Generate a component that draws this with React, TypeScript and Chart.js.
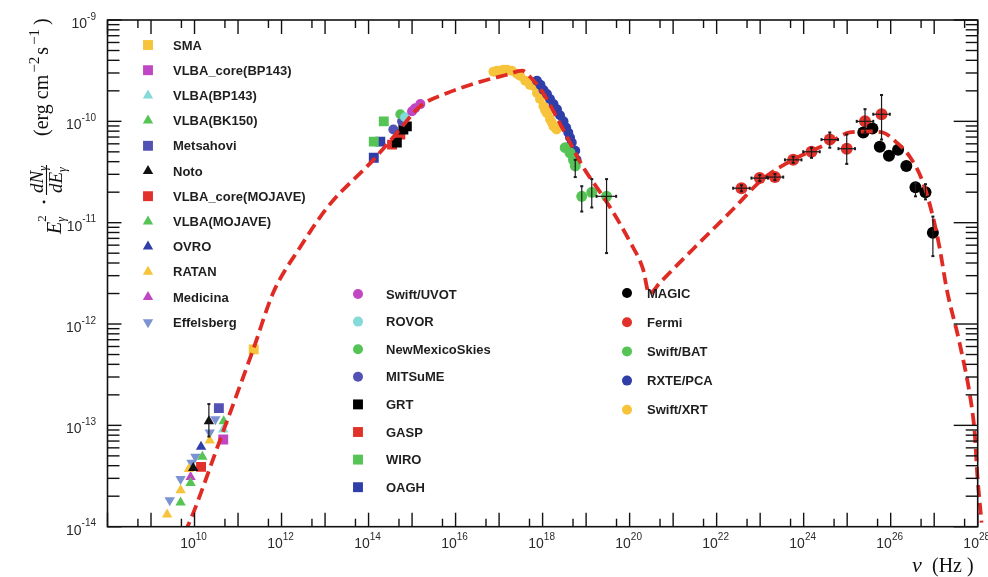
import React, { useEffect, useRef } from 'react';
import { Chart, registerables } from 'chart.js';

Chart.register(...registerables);

// ---- axis ranges ----
const X_MIN = 1e8;
const X_MAX = 1e28;
const Y_MIN = 1e-14;
const Y_MAX = 1e-9;
const X_LABEL_EXPS = [10, 12, 14, 16, 18, 20, 22, 24, 26, 28];
const Y_LABEL_EXPS = [-9, -10, -11, -12, -13, -14];

// ---- model curve (log10 nu [Hz], log10 flux) ----
const MODEL_LOG_NU = [9.77, 9.91, 10.59, 11.35, 11.81, 12.43, 13.07, 14.11, 14.66, 15.19, 15.81, 16.56, 17.18, 17.53, 17.71, 18.01, 18.47, 18.93, 19.48, 20.01, 20.31, 20.45, 20.70, 21.46, 22.37, 23.06, 23.75, 24.60, 25.06, 25.52, 25.82, 26.14, 26.44, 26.74, 26.97, 27.13, 27.29, 27.59, 27.86, 27.93, 27.99, 28.09];
const MODEL_LOG_F = [-14.06, -13.93, -13.14, -12.25, -11.69, -11.24, -10.84, -10.38, -10.11, -9.85, -9.72, -9.61, -9.54, -9.50, -9.56, -9.72, -10.08, -10.45, -10.80, -11.19, -11.46, -11.70, -11.59, -11.26, -10.87, -10.57, -10.38, -10.21, -10.11, -10.10, -10.11, -10.21, -10.35, -10.60, -10.94, -11.26, -11.66, -12.20, -12.81, -13.07, -13.48, -13.96];

// ---- radio ----
const SMA_NU = [11.36];
const SMA_F = [-12.25];
const VLBACORE_BP_NU = [10.66];
const VLBACORE_BP_F = [-13.14];
const VLBA_BP_NU = [10.66];
const VLBA_BP_F = [-13.04];
const VLBA_BK_NU = [10.67];
const VLBA_BK_F = [-12.96];
const METSAHOVI_NU = [10.56];
const METSAHOVI_F = [-12.83];
const NOTO_NU = [10.33, 9.97];
const NOTO_F = [-12.96, -13.42];
const NOTO_YLO = [-13.11, null];
const NOTO_YHI = [-12.79, null];
const VLBACORE_MOJ_NU = [10.15];
const VLBACORE_MOJ_F = [-13.41];
const VLBA_MOJ_NU = [10.18, 9.91, 9.68];
const VLBA_MOJ_F = [-13.31, -13.57, -13.76];
const OVRO_NU = [10.15];
const OVRO_F = [-13.21];
const RATAN_NU = [10.35, 9.87, 9.68, 9.37];
const RATAN_F = [-13.15, -13.43, -13.64, -13.88];
const MEDICINA_NU = [9.91];
const MEDICINA_F = [-13.51];
const EFFELSBERG_NU = [10.48, 10.35, 10.02, 9.93, 9.68, 9.43];
const EFFELSBERG_F = [-12.94, -13.07, -13.31, -13.37, -13.53, -13.74];

// ---- optical / IR ----
const UVOT_NU = [15.0, 15.07, 15.19];
const UVOT_F = [-9.9, -9.87, -9.83];
const ROVOR_NU = [14.84];
const ROVOR_F = [-9.96];
const NMS_NU = [14.73];
const NMS_F = [-9.93];
const MITSUME_NU = [14.57, 14.77];
const MITSUME_F = [-10.08, -10.0];
const GRT_NU = [14.65, 14.8, 14.88];
const GRT_F = [-10.21, -10.08, -10.05];
const GASP_NU = [14.54, 14.73];
const GASP_F = [-10.23, -10.13];
const WIRO_NU = [14.35, 14.12];
const WIRO_F = [-10.0, -10.2];
const OAGH_NU = [14.27, 14.12];
const OAGH_F = [-10.2, -10.36];

// ---- X-ray / gamma ----
const MAGIC_NU = [25.37, 25.58, 25.75, 25.96, 26.17, 26.36, 26.57, 26.8, 26.97];
const MAGIC_F = [-10.11, -10.07, -10.25, -10.34, -10.28, -10.44, -10.65, -10.7, -11.1];
const MAGIC_YLO = [null, null, null, null, null, null, -10.74, -10.77, -11.33];
const MAGIC_YHI = [null, null, null, null, null, null, -10.61, -10.62, -10.94];
const FERMI_NU = [22.57, 22.99, 23.34, 23.76, 24.18, 24.6, 24.99, 25.41, 25.79];
const FERMI_F = [-10.66, -10.56, -10.55, -10.38, -10.3, -10.18, -10.27, -10.0, -9.93];
const FERMI_XLO = [22.38, 22.8, 23.15, 23.57, 23.99, 24.41, 24.8, 25.22, 25.6];
const FERMI_XHI = [22.76, 23.18, 23.53, 23.95, 24.37, 24.79, 25.18, 25.6, 25.98];
const FERMI_YLO = [-10.69, -10.59, -10.58, -10.41, -10.36, -10.26, -10.42, -10.11, -10.18];
const FERMI_YHI = [-10.63, -10.53, -10.52, -10.35, -10.26, -10.11, -10.13, -9.88, -9.74];
const BAT_NU = [18.52, 18.63, 18.71, 18.75, 18.9, 19.13, 19.47];
const BAT_F = [-10.26, -10.31, -10.38, -10.44, -10.74, -10.7, -10.74];
const BAT_XLO = [null, null, null, null, null, null, 19.24];
const BAT_XHI = [null, null, null, null, null, null, 19.69];
const BAT_YLO = [null, null, null, -10.55, -10.89, -10.85, -11.3];
const BAT_YHI = [null, null, null, -10.38, -10.64, -10.57, -10.57];
const PCA_NU = [17.87, 17.95, 18.02, 18.1, 18.17, 18.25, 18.33, 18.4, 18.48, 18.54, 18.59, 18.63, 18.67, 18.75, 18.78];
const PCA_F = [-9.6, -9.64, -9.69, -9.73, -9.78, -9.83, -9.88, -9.94, -10.0, -10.06, -10.11, -10.16, -10.21, -10.29, -10.38];
const XRT_NU = [16.87, 16.95, 17.02, 17.1, 17.18, 17.29, 17.41, 17.48, 17.6, 17.71, 17.79, 17.87, 17.94, 18.02, 18.06, 18.1, 18.17, 18.21, 18.25, 18.32];
const XRT_F = [-9.51, -9.5, -9.5, -9.49, -9.49, -9.5, -9.53, -9.55, -9.6, -9.64, -9.65, -9.72, -9.78, -9.85, -9.89, -9.92, -9.98, -10.01, -10.05, -10.08];

type Shape = 'rect' | 'triangle' | 'invtri' | 'circle';
interface Series {
  label: string;
  nu: number[];
  f: number[];
  color: string;
  shape: Shape;
  r: number;
  xlo?: (number | null)[];
  xhi?: (number | null)[];
  ylo?: (number | null)[];
  yhi?: (number | null)[];
}

const C_YEL = '#f6c33a';
const C_MAG = '#c146c4';
const C_CYAN = '#84d9d9';
const C_GRN = '#55c455';
const C_BLU = '#5252b4';
const C_DBLU = '#2f3ea8';
const C_RED = '#e2302a';
const C_EFF = '#7b93d3';

const RADIO: Series[] = [
  { label: 'SMA', nu: SMA_NU, f: SMA_F, color: C_YEL, shape: 'rect', r: 7 },
  { label: 'VLBA_core(BP143)', nu: VLBACORE_BP_NU, f: VLBACORE_BP_F, color: C_MAG, shape: 'rect', r: 7 },
  { label: 'VLBA(BP143)', nu: VLBA_BP_NU, f: VLBA_BP_F, color: C_CYAN, shape: 'triangle', r: 6 },
  { label: 'VLBA(BK150)', nu: VLBA_BK_NU, f: VLBA_BK_F, color: C_GRN, shape: 'triangle', r: 6 },
  { label: 'Metsahovi', nu: METSAHOVI_NU, f: METSAHOVI_F, color: C_BLU, shape: 'rect', r: 7 },
  { label: 'Noto', nu: NOTO_NU, f: NOTO_F, color: '#111111', shape: 'triangle', r: 6, ylo: NOTO_YLO, yhi: NOTO_YHI },
  { label: 'VLBA_core(MOJAVE)', nu: VLBACORE_MOJ_NU, f: VLBACORE_MOJ_F, color: C_RED, shape: 'rect', r: 7 },
  { label: 'VLBA(MOJAVE)', nu: VLBA_MOJ_NU, f: VLBA_MOJ_F, color: C_GRN, shape: 'triangle', r: 6 },
  { label: 'OVRO', nu: OVRO_NU, f: OVRO_F, color: C_DBLU, shape: 'triangle', r: 6 },
  { label: 'RATAN', nu: RATAN_NU, f: RATAN_F, color: C_YEL, shape: 'triangle', r: 6 },
  { label: 'Medicina', nu: MEDICINA_NU, f: MEDICINA_F, color: C_MAG, shape: 'triangle', r: 6 },
  { label: 'Effelsberg', nu: EFFELSBERG_NU, f: EFFELSBERG_F, color: C_EFF, shape: 'invtri', r: 6 },
];

const OPTICAL: Series[] = [
  { label: 'Swift/UVOT', nu: UVOT_NU, f: UVOT_F, color: C_MAG, shape: 'circle', r: 5 },
  { label: 'ROVOR', nu: ROVOR_NU, f: ROVOR_F, color: C_CYAN, shape: 'circle', r: 5 },
  { label: 'NewMexicoSkies', nu: NMS_NU, f: NMS_F, color: C_GRN, shape: 'circle', r: 5 },
  { label: 'MITSuME', nu: MITSUME_NU, f: MITSUME_F, color: C_BLU, shape: 'circle', r: 5 },
  { label: 'GRT', nu: GRT_NU, f: GRT_F, color: '#000000', shape: 'rect', r: 7 },
  { label: 'GASP', nu: GASP_NU, f: GASP_F, color: C_RED, shape: 'rect', r: 7 },
  { label: 'WIRO', nu: WIRO_NU, f: WIRO_F, color: C_GRN, shape: 'rect', r: 7 },
  { label: 'OAGH', nu: OAGH_NU, f: OAGH_F, color: C_DBLU, shape: 'rect', r: 7 },
];

const HIGH: Series[] = [
  { label: 'MAGIC', nu: MAGIC_NU, f: MAGIC_F, color: '#000000', shape: 'circle', r: 6, ylo: MAGIC_YLO, yhi: MAGIC_YHI },
  { label: 'Fermi', nu: FERMI_NU, f: FERMI_F, color: C_RED, shape: 'circle', r: 6, xlo: FERMI_XLO, xhi: FERMI_XHI, ylo: FERMI_YLO, yhi: FERMI_YHI },
  { label: 'Swift/BAT', nu: BAT_NU, f: BAT_F, color: C_GRN, shape: 'circle', r: 5.5, xlo: BAT_XLO, xhi: BAT_XHI, ylo: BAT_YLO, yhi: BAT_YHI },
  { label: 'RXTE/PCA', nu: PCA_NU, f: PCA_F, color: C_DBLU, shape: 'circle', r: 5 },
  { label: 'Swift/XRT', nu: XRT_NU, f: XRT_F, color: C_YEL, shape: 'circle', r: 5 },
];

// legend layout: [series list, marker x, text x, first row y, row step]
const LEGEND_GROUPS: [Series[], number, number, number, number][] = [
  [RADIO, 148, 173, 45, 25.2],
  [OPTICAL, 358, 386, 294, 27.6],
  [HIGH, 627, 647, 293, 29.2],
];

const ALL_SERIES: Series[] = [...HIGH, ...OPTICAL, ...RADIO];

function drawMarker(ctx: CanvasRenderingContext2D, shape: Shape, x: number, y: number, r: number, color: string) {
  ctx.fillStyle = color;
  ctx.beginPath();
  if (shape === 'rect') {
    const s = r * Math.SQRT1_2;
    ctx.rect(x - s, y - s, 2 * s, 2 * s);
  } else if (shape === 'circle') {
    ctx.arc(x, y, r, 0, Math.PI * 2);
  } else {
    const sgn = shape === 'invtri' ? -1 : 1;
    ctx.moveTo(x, y - sgn * r);
    ctx.lineTo(x + r * 0.866, y + sgn * r * 0.5);
    ctx.lineTo(x - r * 0.866, y + sgn * r * 0.5);
    ctx.closePath();
  }
  ctx.fill();
}

function supText(ctx: CanvasRenderingContext2D, base: string, exp: string, x: number, y: number, align: 'right' | 'center') {
  ctx.font = '14px "Liberation Sans", Arial, sans-serif';
  const wb = ctx.measureText(base).width;
  ctx.font = '10px "Liberation Sans", Arial, sans-serif';
  const we = ctx.measureText(exp).width;
  const total = wb + we;
  const x0 = align === 'right' ? x - total : x - total / 2;
  ctx.textAlign = 'left';
  ctx.textBaseline = 'middle';
  ctx.font = '14px "Liberation Sans", Arial, sans-serif';
  ctx.fillText(base, x0, y);
  ctx.font = '10px "Liberation Sans", Arial, sans-serif';
  ctx.fillText(exp, x0 + wb, y - 7);
}

const framePlugin = {
  id: 'framePlugin',
  afterDatasetsDraw(chart: any) {
    const ctx: CanvasRenderingContext2D = chart.ctx;
    const xs = chart.scales.x;
    const ys = chart.scales.y;
    // error bars
    ctx.save();
    ctx.strokeStyle = '#1a1a1a';
    ctx.fillStyle = '#1a1a1a';
    ctx.lineWidth = 1.2;
    ALL_SERIES.forEach((s) => {
      s.nu.forEach((v, i) => {
        const px = xs.getPixelForValue(Math.pow(10, v));
        const py = ys.getPixelForValue(Math.pow(10, s.f[i]));
        const ylo = s.ylo ? s.ylo[i] : null;
        const yhi = s.yhi ? s.yhi[i] : null;
        if (ylo != null && yhi != null) {
          const a = ys.getPixelForValue(Math.pow(10, ylo));
          const b = ys.getPixelForValue(Math.pow(10, yhi));
          ctx.beginPath();
          ctx.moveTo(px, a);
          ctx.lineTo(px, b);
          ctx.stroke();
          ctx.fillRect(px - 1.5, a - 1, 3, 2);
          ctx.fillRect(px - 1.5, b - 1, 3, 2);
        }
        const xlo = s.xlo ? s.xlo[i] : null;
        const xhi = s.xhi ? s.xhi[i] : null;
        if (xlo != null && xhi != null) {
          const a = xs.getPixelForValue(Math.pow(10, xlo));
          const b = xs.getPixelForValue(Math.pow(10, xhi));
          ctx.beginPath();
          ctx.moveTo(a, py);
          ctx.lineTo(b, py);
          ctx.stroke();
          ctx.fillRect(a - 1, py - 1.5, 2, 3);
          ctx.fillRect(b - 1, py - 1.5, 2, 3);
        }
      });
    });
    ctx.restore();
  },
  afterDraw(chart: any) {
    const ctx: CanvasRenderingContext2D = chart.ctx;
    const { left, right, top, bottom } = chart.chartArea;
    const xs = chart.scales.x;
    const ys = chart.scales.y;
    ctx.save();
    ctx.strokeStyle = '#111111';
    ctx.lineWidth = 1.6;
    ctx.strokeRect(left, top, right - left, bottom - top);
    ctx.lineWidth = 1.4;
    const seg = (x1: number, y1: number, x2: number, y2: number) => {
      ctx.beginPath();
      ctx.moveTo(x1, y1);
      ctx.lineTo(x2, y2);
      ctx.stroke();
    };
    // x ticks
    for (let k = 8; k <= 28; k++) {
      const px = xs.getPixelForValue(Math.pow(10, k));
      seg(px, bottom, px, bottom - 14);
      seg(px, top, px, top + 14);
      if (k > 8) {
        const pm = xs.getPixelForValue(5 * Math.pow(10, k - 1));
        seg(pm, bottom, pm, bottom - 8);
        seg(pm, top, pm, top + 8);
      }
    }
    // y ticks
    for (let k = -14; k <= -9; k++) {
      const py = ys.getPixelForValue(Math.pow(10, k));
      seg(left, py, left + 14, py);
      seg(right, py, right - 24, py);
      if (k < -9) {
        for (let m = 2; m <= 9; m++) {
          const pm = ys.getPixelForValue(m * Math.pow(10, k));
          seg(left, pm, left + 12, pm);
          seg(right, pm, right - 12, pm);
        }
      }
    }
    // tick labels
    ctx.fillStyle = '#2a2a2a';
    Y_LABEL_EXPS.forEach((k) => {
      const py = ys.getPixelForValue(Math.pow(10, k));
      supText(ctx, '10', String(k), 96, py + 4, 'right');
    });
    X_LABEL_EXPS.forEach((k) => {
      const px = xs.getPixelForValue(Math.pow(10, k));
      supText(ctx, '10', String(k), px - 1, 544, 'center');
    });

    // x title
    ctx.fillStyle = '#111111';
    ctx.textBaseline = 'alphabetic';
    ctx.textAlign = 'left';
    ctx.font = 'italic 22px "Liberation Serif", "Times New Roman", serif';
    ctx.fillText('ν', 912, 572);
    ctx.font = '20px "Liberation Serif", "Times New Roman", serif';
    ctx.fillText('(Hz )', 932, 572);

    // y title (rotated); screen (X, Y) -> local (-Y, X)
    ctx.save();
    ctx.rotate(-Math.PI / 2);
    const put = (t: string, X: number, Y: number, font: string) => {
      ctx.font = font;
      ctx.fillText(t, -Y, X);
      return ctx.measureText(t).width;
    };
    const F = '"Liberation Serif", "Times New Roman", serif';
    let Y = 136;
    Y -= put('(erg cm', 48, Y, `20px ${F}`) + 2;
    Y -= put('−2', 39, Y, `15px ${F}`) + 2;
    Y -= put('s', 48, Y, `20px ${F}`) + 2;
    Y -= put('−1', 39, Y, `15px ${F}`) + 4;
    put(')', 48, Y, `20px ${F}`);
    // fraction dN/dE
    const w1 = put('dN', 43, 193, `italic 19px ${F}`);
    put('γ', 47, 193 - w1, `italic 12px ${F}`);
    const w2 = put('dE', 62, 193, `italic 19px ${F}`);
    put('γ', 66, 193 - w2, `italic 12px ${F}`);
    ctx.lineWidth = 1.1;
    ctx.strokeStyle = '#111111';
    ctx.beginPath();
    ctx.moveTo(-195, 46.5);
    ctx.lineTo(-165, 46.5);
    ctx.stroke();
    ctx.beginPath();
    ctx.arc(-202, 44, 1.4, 0, Math.PI * 2);
    ctx.fill();
    const w3 = put('E', 61, 234, `italic 20px ${F}`);
    put('γ', 65, 234 - w3, `italic 12px ${F}`);
    put('2', 46, 234 - w3, `13px ${F}`);
    ctx.restore();

    // legends
    LEGEND_GROUPS.forEach(([list, mx, tx, y0, dy]) => {
      list.forEach((s, i) => {
        const y = y0 + i * dy;
        const r = s.shape === 'rect' ? 7 : s.shape === 'circle' ? 5 : 6;
        drawMarker(ctx, s.shape, mx, y, r, s.color);
        ctx.fillStyle = '#1e1e1e';
        ctx.font = 'bold 13px "Liberation Sans", Arial, sans-serif';
        ctx.textAlign = 'left';
        ctx.textBaseline = 'middle';
        ctx.fillText(s.label, tx, y + 1);
      });
    });
    ctx.restore();
  },
};

export default function App() {
  const ref = useRef<HTMLCanvasElement | null>(null);
  useEffect(() => {
    if (!ref.current) return;
    const model = {
      label: 'model',
      data: MODEL_LOG_NU.map((v, i) => ({ x: Math.pow(10, v), y: Math.pow(10, MODEL_LOG_F[i]) })),
      showLine: true,
      borderColor: '#e02b24',
      backgroundColor: '#e02b24',
      borderWidth: 3.8,
      borderDash: [12, 6],
      pointRadius: 0,
      cubicInterpolationMode: 'monotone',
      clip: { left: 0, top: 0, right: 6, bottom: 0 },
    };
    const pts = ALL_SERIES.map((s) => ({
      label: s.label,
      data: s.nu.map((v, i) => ({ x: Math.pow(10, v), y: Math.pow(10, s.f[i]) })),
      showLine: false,
      pointStyle: s.shape === 'rect' ? 'rect' : s.shape === 'circle' ? 'circle' : 'triangle',
      rotation: s.shape === 'invtri' ? 180 : 0,
      pointRadius: s.r,
      pointBorderWidth: 0,
      borderWidth: 0,
      backgroundColor: s.color,
      borderColor: s.color,
      pointBackgroundColor: s.color,
    }));
    const chart = new Chart(ref.current, {
      type: 'scatter',
      data: { datasets: [model as any, ...pts] },
      options: {
        responsive: false,
        animation: false,
        devicePixelRatio: 1,
        layout: { padding: { left: 107.5, top: 20, right: 10.3, bottom: 50.3 } },
        plugins: { legend: { display: false }, tooltip: { enabled: false } },
        scales: {
          x: { type: 'logarithmic', min: X_MIN, max: X_MAX, display: false },
          y: { type: 'logarithmic', min: Y_MIN, max: Y_MAX, display: false },
        },
        events: [],
      },
      plugins: [framePlugin],
    });
    return () => chart.destroy();
  }, []);
  return (
    <div style={{ position: 'fixed', left: 0, top: 0, width: 988, height: 577, background: '#ffffff' }}>
      <canvas ref={ref} width={988} height={577} style={{ width: 988, height: 577, display: 'block' }} />
    </div>
  );
}
